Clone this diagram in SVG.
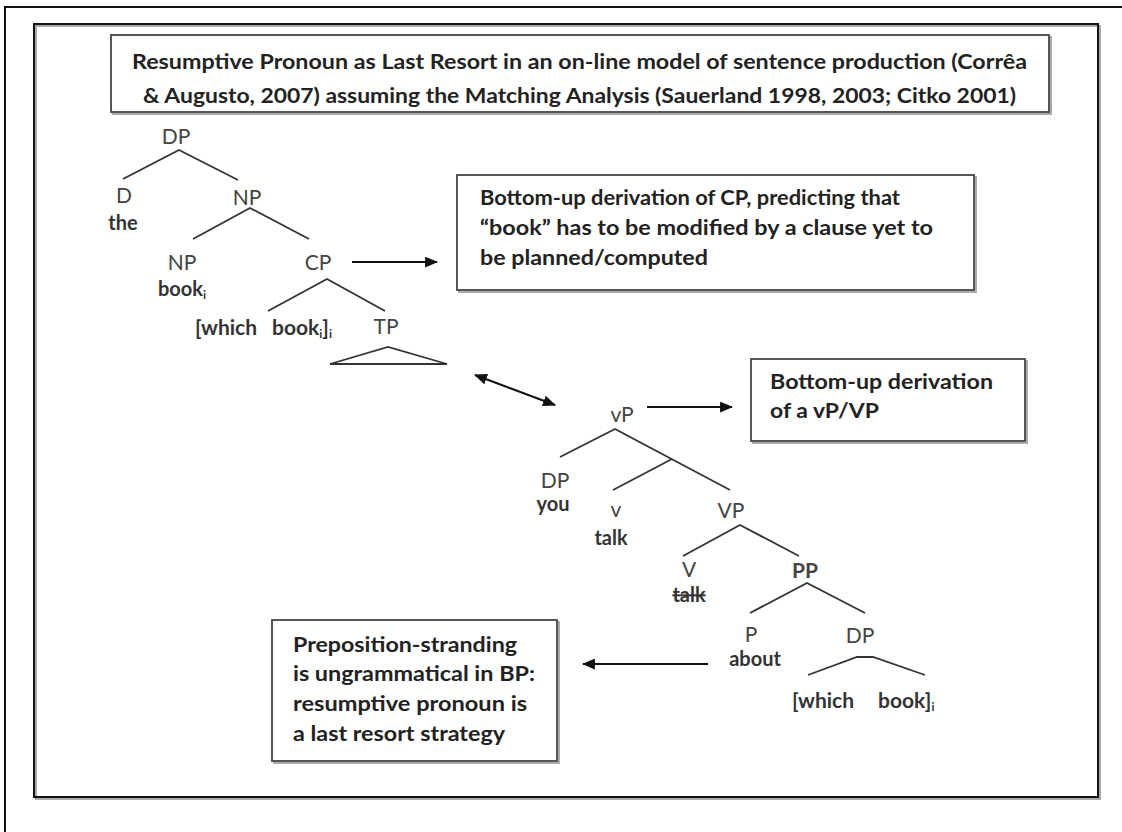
<svg xmlns="http://www.w3.org/2000/svg" width="1122" height="832" viewBox="0 0 1122 832">
<style>
  .frame { fill: none; stroke: #111; stroke-width: 2; }
  .box { fill: #fff; stroke: #444; stroke-width: 1.8; }
  .shadow { fill: none; stroke: #aaa; stroke-width: 2; }
  .edge { fill: none; stroke: #333; stroke-width: 1.8; }
  .arrow { fill: none; stroke: #111; stroke-width: 2; }
  .lbl { font-family: Lato, "Open Sans", "Liberation Sans", sans-serif; font-size: 21px; fill: #444; text-anchor: middle; }
  .word { font-family: Lato, "Open Sans", "Liberation Sans", sans-serif; font-size: 20px; font-weight: bold; fill: #333; text-anchor: middle; }
  .wordl { font-family: Lato, "Open Sans", "Liberation Sans", sans-serif; font-size: 21px; font-weight: bold; fill: #333; }
  .btxt { font-family: Lato, "Open Sans", "Liberation Sans", sans-serif; font-size: 21px; font-weight: bold; fill: #222; }
  .sub { font-size: 12px; }
</style>
<defs>
  <marker id="ah" viewBox="0 0 12 10" refX="11" refY="5" markerWidth="13" markerHeight="11" markerUnits="userSpaceOnUse" orient="auto-start-reverse">
    <path d="M0,0 L12,5 L0,10 Z" fill="#111"/>
  </marker>
</defs>
<rect width="1122" height="832" fill="#fff"/>
<!-- outer and inner frames -->
<path class="frame" d="M5,840 V7 H1130"/>
<rect x="36" y="26" width="1064" height="773" class="shadow"/>
<rect x="34" y="24" width="1064" height="773" class="frame" stroke-width="1.5"/>

<g id="title">
  <rect x="113" y="37" width="938" height="77" class="shadow"/>
  <rect x="111" y="35" width="938" height="77" class="box"/>
  <text class="btxt" x="132" y="69" font-size="19" textLength="895" lengthAdjust="spacingAndGlyphs">Resumptive Pronoun as Last Resort in an on-line model of sentence production (Corrêa</text>
  <text class="btxt" x="143" y="103" font-size="19" textLength="873" lengthAdjust="spacingAndGlyphs">&amp; Augusto, 2007) assuming the Matching Analysis (Sauerland 1998, 2003; Citko 2001)</text>
</g>

<g id="box-cp">
  <rect x="459" y="177" width="517" height="115" class="shadow"/>
  <rect x="457" y="175" width="517" height="115" class="box"/>
  <text class="btxt" x="480" y="205" textLength="420" lengthAdjust="spacingAndGlyphs">Bottom-up derivation of CP, predicting that</text>
  <text class="btxt" x="480" y="235" textLength="453" lengthAdjust="spacingAndGlyphs">“book” has to be modified by a clause yet to</text>
  <text class="btxt" x="480" y="265" textLength="228" lengthAdjust="spacingAndGlyphs">be planned/computed</text>
</g>

<g id="box-vp">
  <rect x="753" y="361" width="274" height="82" class="shadow"/>
  <rect x="751" y="359" width="274" height="82" class="box"/>
  <text class="btxt" x="770" y="389" textLength="223" lengthAdjust="spacingAndGlyphs">Bottom-up derivation</text>
  <text class="btxt" x="770" y="418" textLength="109" lengthAdjust="spacingAndGlyphs">of a vP/VP</text>
</g>

<g id="box-pp">
  <rect x="274" y="622" width="285" height="141" class="shadow"/>
  <rect x="272" y="620" width="285" height="141" class="box"/>
  <text class="btxt" x="293" y="652" textLength="224" lengthAdjust="spacingAndGlyphs">Preposition-stranding</text>
  <text class="btxt" x="293" y="681" textLength="242" lengthAdjust="spacingAndGlyphs">is ungrammatical in BP:</text>
  <text class="btxt" x="293" y="711" textLength="234" lengthAdjust="spacingAndGlyphs">resumptive pronoun is</text>
  <text class="btxt" x="293" y="741" textLength="212" lengthAdjust="spacingAndGlyphs">a last resort strategy</text>
</g>

<g id="tree-edges">
  <polyline class="edge" points="123,179 179,150 238,180"/>
  <polyline class="edge" points="193,239 250,208 309,239"/>
  <polyline class="edge" points="268,311 327,279 385,311"/>
  <polygon class="edge" points="330,364 388,347 447,364"/>
  <polyline class="edge" points="560,457 615,429 730,490"/>
  <line class="edge" x1="672" y1="459" x2="613" y2="490"/>
  <polyline class="edge" points="683,556 740,525 799,556"/>
  <polyline class="edge" points="750,613 807,583 865,613"/>
  <polyline class="edge" points="808,675 857,657 873,657 925,675" stroke="#555"/>
</g>

<g id="connectors">
  <line class="arrow" x1="352" y1="262" x2="437" y2="262" marker-end="url(#ah)"/>
  <line class="arrow" x1="475" y1="375" x2="555" y2="405" marker-start="url(#ah)" marker-end="url(#ah)"/>
  <line class="arrow" x1="647" y1="407" x2="732" y2="407" marker-end="url(#ah)"/>
  <line class="arrow" x1="708" y1="664" x2="583" y2="664" marker-end="url(#ah)"/>
</g>

<g id="n-dp"><text class="lbl" x="176" y="144">DP</text></g>
<g id="n-d"><text class="lbl" x="124" y="203">D</text><text class="word" x="123" y="230">the</text></g>
<g id="n-np"><text class="lbl" x="247" y="205">NP</text></g>
<g id="n-np2"><text class="lbl" x="182" y="270">NP</text><text class="word" x="182" y="296">book<tspan class="sub" dy="3">i</tspan></text></g>
<g id="n-cp"><text class="lbl" x="318" y="270">CP</text></g>
<g id="n-which"><text class="wordl" x="195" y="335">[which<tspan x="272">book</tspan><tspan class="sub" dy="3">i</tspan><tspan dy="-3">]</tspan><tspan class="sub" dy="3">i</tspan></text></g>
<g id="n-tp"><text class="lbl" x="386" y="334">TP</text></g>
<g id="n-vp"><text class="lbl" x="622" y="422">vP</text></g>
<g id="n-dp-you"><text class="lbl" x="555" y="488">DP</text><text class="word" x="553" y="511">you</text></g>
<g id="n-v"><text class="lbl" x="616" y="517">v</text><text class="word" x="611" y="545">talk</text></g>
<g id="n-vp2"><text class="lbl" x="731" y="518">VP</text></g>
<g id="n-V"><text class="lbl" x="689" y="577">V</text><text class="word" x="689" y="602" text-decoration="line-through">talk</text></g>
<g id="n-pp"><text class="lbl" x="805" y="578" font-weight="bold" fill="#333">PP</text></g>
<g id="n-p"><text class="lbl" x="751" y="642">P</text><text class="word" x="755" y="666">about</text></g>
<g id="n-dp2"><text class="lbl" x="860" y="643">DP</text></g>
<g id="n-which2"><text class="wordl" x="792" y="708">[which<tspan x="878">book]</tspan><tspan class="sub" dy="3">i</tspan></text></g>
</svg>
